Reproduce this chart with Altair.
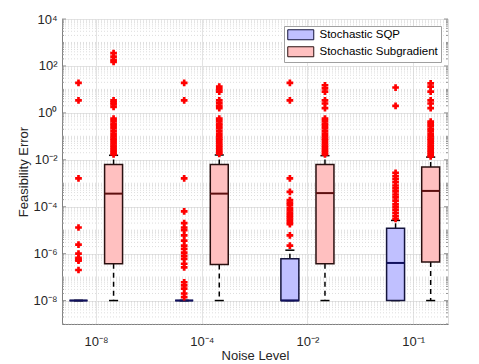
import altair as alt
import pandas as pd

# ---------------- data ----------------
group_labels = ["10⁻⁸", "10⁻⁴", "10⁻²", "10⁻¹"]
methods = ["Stochastic SQP", "Stochastic Subgradient"]

sqp_q1 = [1.0e-8, 1.0e-8, 1.0e-8, 1.0e-8]
sqp_med = [1.0e-8, 1.0e-8, 1.0e-8, 4.0e-7]
sqp_q3 = [1.0e-8, 1.0e-8, 6.0e-7, 1.2e-5]
sqp_wlo = [1.0e-8, 1.0e-8, 1.0e-8, 1.0e-8]
sqp_whi = [1.0e-8, 1.0e-8, 1.4e-6, 2.6e-5]

sub_q1 = [3.7e-7, 3.4e-7, 3.7e-7, 4.4e-7]
sub_med = [3.6e-4, 3.6e-4, 3.8e-4, 4.7e-4]
sub_q3 = [6.3e-3, 6.3e-3, 6.3e-3, 4.9e-3]
sub_wlo = [1.0e-8, 1.0e-8, 1.0e-8, 1.0e-8]
sub_whi = [1.55e-2, 1.6e-2, 1.5e-2, 1.3e-2]

sqp_out_1 = [19, 3.4, 1.6e-3, 1.3e-5, 2.4e-6, 1.0e-6, 6.6e-7, 5.5e-7, 5.0e-7, 2.0e-7]
sqp_out_2 = [19, 3.4, 1.6e-3, 6.3e-5, 2.0e-5, 1.3e-5, 1.0e-5, 6.0e-6, 3.6e-6, 2.2e-6,
             1.6e-6, 1.1e-6, 8.0e-7, 6.0e-7, 3.7e-7, 2.6e-7, 6.0e-8, 4.4e-8, 3.2e-8,
             2.0e-8, 1.4e-8]
sqp_out_3 = [19, 3.4, 1.6e-3, 4.3e-4, 1.9e-4, 1.5e-4, 1.2e-4, 9.0e-5, 7.0e-5, 5.5e-5,
             4.4e-5, 3.5e-5, 2.8e-5, 2.2e-5, 1.8e-5, 6.0e-6, 2.2e-6]
sqp_out_4 = [12, 2.0, 2.8e-3, 2.0e-3, 1.5e-3, 1.1e-3, 8.0e-4, 6.0e-4, 4.5e-4, 3.3e-4,
             2.5e-4, 1.8e-4, 1.3e-4, 1.0e-4, 7.5e-5, 5.5e-5, 4.0e-5, 3.0e-5]

sub_out_1 = [350, 250, 180, 150, 3.4, 2.8, 2.3, 1.8, 0.57, 0.45, 0.35, 0.28, 0.22, 0.17,
             0.13, 0.10, 0.08, 0.065, 0.05, 0.04, 0.032, 0.026, 0.021, 0.017]
sub_out_2 = [13, 10, 8, 3.4, 2.6, 2.0, 1.6, 0.57, 0.45, 0.35, 0.28, 0.22, 0.17, 0.13,
             0.10, 0.08, 0.065, 0.05, 0.04, 0.032, 0.026, 0.021, 0.018]
sub_out_3 = [15, 11, 8, 3.4, 2.5, 1.6, 0.57, 0.45, 0.35, 0.28, 0.22, 0.17, 0.13, 0.10,
             0.08, 0.065, 0.05, 0.04, 0.032, 0.026, 0.021, 0.017]
sub_out_4 = [18, 13, 8, 3.4, 2.5, 1.6, 0.42, 0.34, 0.27, 0.21, 0.17, 0.13, 0.10, 0.08,
             0.065, 0.05, 0.04, 0.032, 0.026, 0.021, 0.017, 0.014]

major_ticks = [1e4, 1e2, 1e0, 1e-2, 1e-4, 1e-6, 1e-8]
major_labels = ["10⁴", "10²", "10⁰", "10⁻²", "10⁻⁴", "10⁻⁶", "10⁻⁸"]
decades = [-9, -8, -7, -6, -5, -4, -3, -2, -1, 0, 1, 2, 3]
mantissas = [1, 2, 3, 4, 5, 6, 7, 8, 9]

# ---------------- layout / style ----------------
W, H = 386, 305
OFF = 0.166
BW = 0.085
CAP = 0.043
FONT = "Liberation Sans"

rows = []
stats = {
    methods[0]: (sqp_q1, sqp_med, sqp_q3, sqp_wlo, sqp_whi, -OFF),
    methods[1]: (sub_q1, sub_med, sub_q3, sub_wlo, sub_whi, OFF),
}
for m, (q1, md, q3, wl, wh, off) in stats.items():
    for i in range(4):
        c = i + 1 + off
        rows.append(dict(method=m, x=c, xl=c - BW, xr=c + BW, cl=c - CAP, cr=c + CAP,
                         q1=q1[i], med=md[i], q3=q3[i], wlo=wl[i], whi=wh[i]))
box_df = pd.DataFrame(rows)

out_rows = []
for m, lists, off in [(methods[0], [sqp_out_1, sqp_out_2, sqp_out_3, sqp_out_4], -OFF),
                      (methods[1], [sub_out_1, sub_out_2, sub_out_3, sub_out_4], OFF)]:
    for i, lst in enumerate(lists):
        for v in lst:
            out_rows.append(dict(method=m, x=i + 1 + off, v=v))
out_df = pd.DataFrame(out_rows)

minor_vals = [m * 10.0 ** d for d in decades for m in mantissas
              if not (m == 1 and d % 2 == 0) and 1e-9 <= m * 10.0 ** d <= 1e4]
minor_df = pd.DataFrame({"v": minor_vals})
major_df = pd.DataFrame({"v": major_ticks})

label_expr = " : ".join(
    [f"datum.value > {t * 0.9:g} && datum.value < {t * 1.1:g} ? '{l}'"
     for t, l in zip(major_ticks, major_labels)]) + " : ''"
xlabel_expr = " : ".join([f"datum.value == {i + 1} ? '{l}'" for i, l in enumerate(group_labels)]) + " : ''"

xscale = alt.Scale(domain=[0.678, 4.33], nice=False, zero=False)
yscale = alt.Scale(type="log", domain=[1e-9, 1e4], nice=False)

x_axis = alt.Axis(values=[1, 2, 3, 4], labelExpr=xlabel_expr, title="Noise Level",
                  grid=True, gridColor="#e3e3e3", tickSize=0, labelPadding=11,
                  labelFontSize=13, titleFontSize=13, titleFontWeight="normal",
                  titlePadding=1, domainColor="#7f7f7f", labelColor="#262626",
                  titleColor="#262626", labelFont=FONT, titleFont=FONT)
y_axis = alt.Axis(values=major_ticks, labelExpr=label_expr, title="Feasibility Error",
                  grid=True, gridColor="#e3e3e3", tickSize=0, labelPadding=5,
                  labelFontSize=13, titleFontSize=13, titleFontWeight="normal",
                  titlePadding=2, domainColor="#7f7f7f", labelColor="#262626",
                  titleColor="#262626", labelFont=FONT, titleFont=FONT)

base_x = alt.X("x:Q", scale=xscale, axis=x_axis)

minor_grid = alt.Chart(minor_df).mark_rule(color="#cfcfcf", strokeWidth=0.7,
                                           strokeDash=[1, 2]).encode(
    y=alt.Y("v:Q", scale=yscale, axis=y_axis), x=alt.value(0), x2=alt.value(W))

ticks_l = alt.Chart(minor_df).mark_rule(color="#7f7f7f", strokeWidth=0.8).encode(
    y=alt.Y("v:Q", scale=yscale), x=alt.value(0), x2=alt.value(2))
ticks_r = alt.Chart(minor_df).mark_rule(color="#7f7f7f", strokeWidth=0.8).encode(
    y=alt.Y("v:Q", scale=yscale), x=alt.value(W - 2), x2=alt.value(W))
mticks_l = alt.Chart(major_df).mark_rule(color="#7f7f7f", strokeWidth=0.8).encode(
    y=alt.Y("v:Q", scale=yscale), x=alt.value(0), x2=alt.value(4))
mticks_r = alt.Chart(major_df).mark_rule(color="#7f7f7f", strokeWidth=0.8).encode(
    y=alt.Y("v:Q", scale=yscale), x=alt.value(W - 4), x2=alt.value(W))

color_scale = alt.Scale(domain=methods, range=["#c0c0ff", "#ffc0c0"])
edge_scale = alt.Scale(domain=methods, range=["#14143c", "#2a1010"])
med_scale = alt.Scale(domain=methods, range=["#10105e", "#5e1010"])

whisk_hi = alt.Chart(box_df).mark_rule(color="black", strokeWidth=1.5,
                                       strokeDash=[5, 4]).encode(
    x=base_x, y=alt.Y("q3:Q", scale=yscale), y2="whi:Q")
whisk_lo = alt.Chart(box_df).mark_rule(color="black", strokeWidth=1.5,
                                       strokeDash=[5, 4]).encode(
    x=base_x, y=alt.Y("q1:Q", scale=yscale), y2="wlo:Q")
cap_hi = alt.Chart(box_df).mark_rule(color="black", strokeWidth=1.5).encode(
    x=alt.X("cl:Q", scale=xscale), x2="cr:Q", y=alt.Y("whi:Q", scale=yscale))
cap_lo = alt.Chart(box_df).mark_rule(color="black", strokeWidth=1.5).encode(
    x=alt.X("cl:Q", scale=xscale), x2="cr:Q", y=alt.Y("wlo:Q", scale=yscale))

boxes = alt.Chart(box_df).mark_rect(strokeWidth=1.5).encode(
    x=alt.X("xl:Q", scale=xscale), x2="xr:Q",
    y=alt.Y("q1:Q", scale=yscale), y2="q3:Q",
    fill=alt.Fill("method:N", scale=color_scale,
                  legend=alt.Legend(title=None, orient="top-right", offset=7,
                                    fillColor="white", strokeColor="#a0a0a0",
                                    padding=3, rowPadding=2, labelFontSize=11.5,
                                    labelFont=FONT, labelColor="black",
                                    labelOffset=13, symbolOffset=8,
                                    symbolType="M-2.6,-1H2.6V1H-2.6Z",
                                    symbolSize=100, symbolStrokeColor="#555555",
                                    symbolStrokeWidth=1, symbolOpacity=1)),
    stroke=alt.Stroke("method:N", scale=edge_scale, legend=None),
)
medians = alt.Chart(box_df).mark_rule(strokeWidth=2).encode(
    x=alt.X("xl:Q", scale=xscale), x2="xr:Q", y=alt.Y("med:Q", scale=yscale),
    color=alt.Color("method:N", scale=med_scale, legend=None))

outliers = alt.Chart(out_df).mark_point(shape="cross", filled=True, size=45,
                                        color="#ff0000", opacity=1).encode(
    x=alt.X("x:Q", scale=xscale), y=alt.Y("v:Q", scale=yscale))

grid_layer = alt.Chart(box_df).mark_point(opacity=0).encode(
    x=base_x, y=alt.Y("q1:Q", scale=yscale, axis=y_axis))

chart = alt.layer(
    minor_grid, grid_layer, ticks_l, ticks_r, mticks_l, mticks_r,
    whisk_hi, whisk_lo, cap_hi, cap_lo, boxes, medians, outliers
).resolve_scale(fill="independent", stroke="independent", color="independent").properties(
    width=W, height=H,
    autosize=alt.AutoSizeParams(type="none"),
    padding={"left": 54, "top": 11, "right": 23, "bottom": 40},
).configure_view(stroke="#7f7f7f", strokeWidth=1).configure(
    font=FONT, background="white")

chart.save("out.html", embed_options={"renderer": "svg", "actions": False})
